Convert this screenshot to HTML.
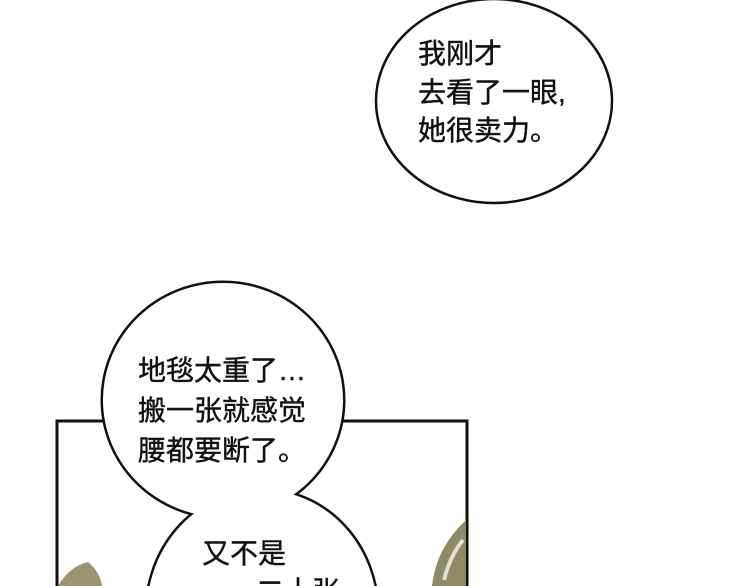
<!DOCTYPE html>
<html><head><meta charset="utf-8"><style>
html,body{margin:0;padding:0;background:#fff;width:750px;height:586px;overflow:hidden}
svg{display:block}
text{font-family:"Liberation Sans","Noto Sans CJK SC",sans-serif;font-size:28px;fill:#111;stroke:#111;stroke-width:0.4}
</style></head><body>
<svg width="750" height="586" viewBox="0 0 750 586" xmlns="http://www.w3.org/2000/svg">
<rect width="750" height="586" fill="#fff"/>
<path d="M57 586 V421 H467 V586" fill="none" stroke="#111" stroke-width="3"/>
<path d="M58 586 Q70 566 88 562 Q100 572 102 586 Z" fill="#9a9470"/>
<path d="M432 586 Q436 548 466 520 L466 586 Z" fill="#8e8a64"/>
<path d="M444 580 Q450 556 463 540" stroke="#e4e0d0" stroke-width="4" fill="none"/>
<ellipse cx="494" cy="101" rx="118" ry="102" fill="#fff" stroke="#111" stroke-width="2.5"/>
<text x="418" y="63">我刚才</text>
<text x="418" y="102">去看了一眼,</text>
<text x="418" y="140">她很卖力。</text>
<ellipse cx="223" cy="400" rx="120" ry="117" fill="none" stroke="#111" stroke-width="5"/>
<ellipse cx="262" cy="612" rx="115" ry="122" fill="none" stroke="#111" stroke-width="5"/>
<ellipse cx="223" cy="400" rx="120" ry="117" fill="#fff"/>
<ellipse cx="262" cy="612" rx="115" ry="122" fill="#fff"/>
<text x="138" y="380">地毯太重了…</text>
<text x="138" y="420">搬一张就感觉</text>
<text x="138" y="460">腰都要断了。</text>
<text x="202" y="563">又不是</text>
<text x="228" y="601">一二十张</text>
</svg>
</body></html>
